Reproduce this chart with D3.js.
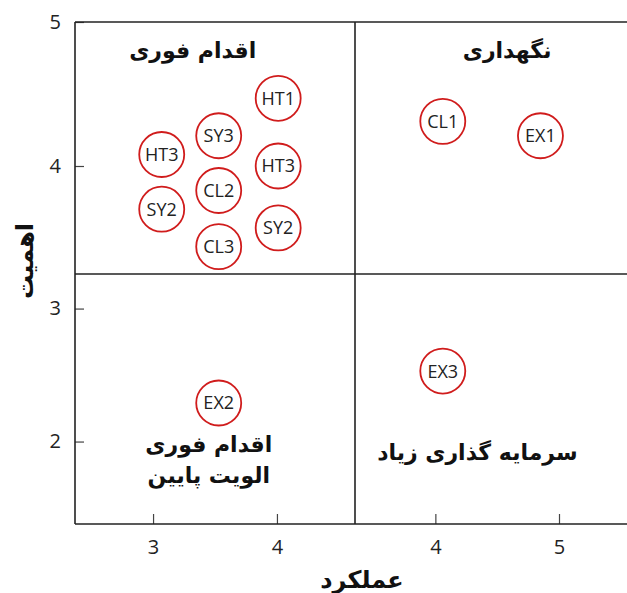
<!DOCTYPE html>
<html>
<head>
<meta charset="utf-8">
<script src="https://cdn.jsdelivr.net/npm/d3@7"></script>
<style>
    body { margin: 0; background: #fff; }
    .tick text { font-family: "Open Sans", sans-serif; font-size: 20px; fill: #222; }
    .quad { font-family: "DejaVu Sans", sans-serif; font-weight: bold; font-size: 22px; fill: #111; }
    .axis-title { font-family: "DejaVu Sans", sans-serif; font-weight: bold; font-size: 24px; fill: #111; }
    .bubble text { font-family: "Open Sans", sans-serif; font-size: 18px; fill: #222; }
</style>
</head>
<body>
<div id="chart"></div>
<script>
// items: label, quadrant column (L/R), row (T/B), performance, importance
const labels = ["HT1", "SY3", "HT3", "HT3", "CL2", "SY2", "SY2", "CL3", "CL1", "EX1", "EX2", "EX3"];
const side   = ["L", "L", "L", "L", "L", "L", "L", "L", "R", "R", "L", "R"];
const row    = ["T", "T", "T", "T", "T", "T", "T", "T", "T", "T", "B", "B"];
const perf   = [4.01, 3.53, 3.07, 4.01, 3.53, 3.07, 4.01, 3.53, 4.06, 4.85, 3.53, 4.06];
const imp    = [4.47, 4.21, 4.08, 4.00, 3.83, 3.70, 3.57, 3.44, 4.31, 4.21, 2.29, 2.53];

const quadLabels = [
    { lines: ["اقدام فوری"], px: 3.32, py: 4.75, s: "L", r: "T" },
    { lines: ["نگهداری"], px: 4.58, py: 4.75, s: "R", r: "T" },
    { lines: ["اقدام فوری", "الویت پایین"], px: 3.45, py: 1.92, s: "L", r: "B" },
    { lines: ["سرمایه گذاری زیاد"], px: 4.34, py: 1.86, s: "R", r: "B" }
];

const W = 627, H = 593;
const plotL = 75, plotT = 22, plotB = 524, midX = 355, midY = 274, plotR = 640;

const svg = d3.select("#chart").append("svg")
    .attr("width", W).attr("height", H);

// split scales, one per half
const xL = d3.scaleLinear().domain([2.37, 4.63]).range([plotL, midX]);
const xR = d3.scaleLinear().domain([3.35, 5.55]).range([midX, plotR - 13]);
const yT = d3.scaleLinear().domain([3.25, 5]).range([midY, plotT]);
const yB = d3.scaleLinear().domain([1.38, 3.26]).range([plotB, midY]);
const xs = { L: xL, R: xR }, ys = { T: yT, B: yB };
const fmt = d3.format("d");

// axes (ticks point inward)
svg.append("g").attr("transform", `translate(0,${plotB})`)
    .call(d3.axisBottom(xL).tickValues([3, 4]).tickFormat(fmt).tickSizeInner(-10).tickSizeOuter(0).tickPadding(16))
    .call(g => g.select(".domain").remove());
svg.append("g").attr("transform", `translate(0,${plotB})`)
    .call(d3.axisBottom(xR).tickValues([4, 5]).tickFormat(fmt).tickSizeInner(-10).tickSizeOuter(0).tickPadding(16))
    .call(g => g.select(".domain").remove());
svg.append("g").attr("transform", `translate(${plotL},0)`)
    .call(d3.axisLeft(yT).tickValues([4, 5]).tickFormat(fmt).tickSizeInner(-9).tickSizeOuter(0).tickPadding(14))
    .call(g => g.select(".domain").remove());
svg.append("g").attr("transform", `translate(${plotL},0)`)
    .call(d3.axisLeft(yB).tickValues([2, 3]).tickFormat(fmt).tickSizeInner(-9).tickSizeOuter(0).tickPadding(14))
    .call(g => g.select(".domain").remove());
svg.selectAll(".tick line").attr("stroke", "#444").attr("stroke-width", 1.2);

// frame and dividers
const frame = svg.append("g").attr("stroke", "#222").attr("stroke-width", 1.6);
frame.append("line").attr("x1", plotL).attr("x2", plotR).attr("y1", plotT).attr("y2", plotT);
frame.append("line").attr("x1", plotL).attr("x2", plotR).attr("y1", plotB).attr("y2", plotB);
frame.append("line").attr("x1", plotL).attr("x2", plotL).attr("y1", plotT).attr("y2", plotB);
frame.append("line").attr("x1", plotL).attr("x2", plotR).attr("y1", midY).attr("y2", midY);
frame.append("line").attr("x1", midX).attr("x2", midX).attr("y1", plotT).attr("y2", plotB);

// quadrant titles
quadLabels.forEach(q => {
    const t = svg.append("text").attr("class", "quad")
        .attr("direction", "rtl")
        .attr("text-anchor", "middle")
        .attr("x", xs[q.s](q.px))
        .attr("y", ys[q.r](q.py));
    q.lines.forEach((ln, i) => {
        t.append("tspan").attr("x", xs[q.s](q.px)).attr("dy", i === 0 ? 0 : 31).text(ln);
    });
});

// bubbles
const b = svg.selectAll(".bubble").data(labels).enter().append("g")
    .attr("class", "bubble")
    .attr("transform", (d, i) => `translate(${xs[side[i]](perf[i])},${ys[row[i]](imp[i])})`);
b.append("circle").attr("r", 22.5).attr("fill", "#fff")
    .attr("stroke", "#d01c1c").attr("stroke-width", 1.8);
b.append("text").attr("text-anchor", "middle").attr("dy", "0.36em").text(d => d);

// axis titles
svg.append("text").attr("class", "axis-title")
    .attr("direction", "rtl").attr("text-anchor", "middle")
    .attr("x", 362).attr("y", 588).text("عملکرد");
svg.append("text").attr("class", "axis-title")
    .attr("direction", "rtl").attr("text-anchor", "middle")
    .attr("transform", "translate(33,261) rotate(-90)").text("اهمیت");
</script>
</body>
</html>
